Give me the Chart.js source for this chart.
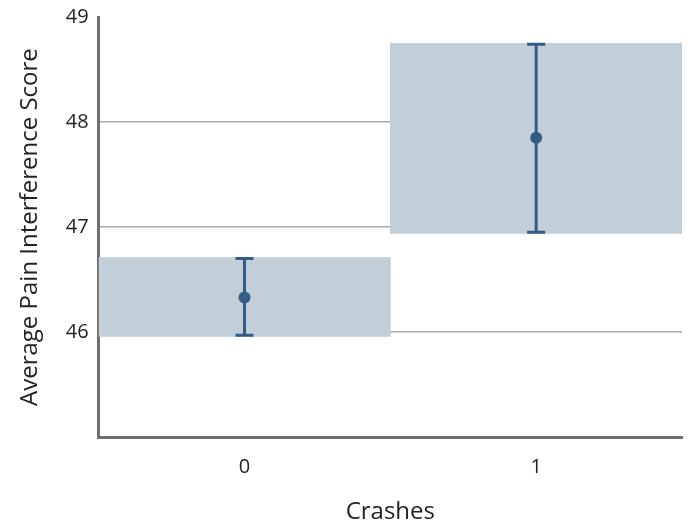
<!DOCTYPE html>
<html lang="en">
<head>
    <meta charset="UTF-8">
    <title>Average Pain Interference Score by Crashes</title>
    <script src="https://cdn.jsdelivr.net/npm/chart.js"></script>
    <style>
        html, body { margin: 0; padding: 0; background: #fff; }
        #wrap { width: 688px; height: 527px; }
    </style>
</head>
<body>
<div id="wrap"><canvas id="chart" width="688" height="527"></canvas></div>
<script>
    // data
    var crashes = ['0', '1'];
    var meanScore = [46.33, 47.85];
    var ciLow = [45.97, 46.95];
    var ciHigh = [46.70, 48.74];
    var bandLow = [45.96, 46.94];
    var bandHigh = [46.71, 48.75];
    var yTicks = [46, 47, 48, 49];

    var dark = '#335d85';

    // error bars drawn on top of everything (grid included)
    var errorBars = {
        id: 'errorBars',
        afterDraw: function (chart) {
            var ctx = chart.ctx;
            var x = chart.scales.x, y = chart.scales.y;
            ctx.save();
            ctx.strokeStyle = dark;
            ctx.lineWidth = 3;
            for (var i = 0; i < crashes.length; i++) {
                var px = x.getPixelForValue(i);
                var top = y.getPixelForValue(ciHigh[i]);
                var bot = y.getPixelForValue(ciLow[i]);
                ctx.beginPath();
                ctx.moveTo(px, top); ctx.lineTo(px, bot);
                ctx.moveTo(px - 9, top); ctx.lineTo(px + 9, top);
                ctx.moveTo(px - 9, bot); ctx.lineTo(px + 9, bot);
                ctx.stroke();
            }
            ctx.restore();
        }
    };

    var bands = crashes.map(function (c, i) { return [bandLow[i], bandHigh[i]]; });
    var font = 'Open Sans';

    new Chart(document.getElementById('chart'), {
        type: 'bar',
        data: {
            labels: crashes,
            datasets: [{
                type: 'line',
                data: meanScore,
                showLine: false,
                pointRadius: 6,
                pointBackgroundColor: dark,
                pointBorderWidth: 0,
                order: 0
            }, {
                data: bands,
                backgroundColor: '#c2ced8',
                borderWidth: 0,
                categoryPercentage: 1,
                barPercentage: 1,
                order: 1
            }]
        },
        options: {
            responsive: false,
            animation: false,
            layout: { padding: { top: 0, right: 6, left: 12, bottom: 0 } },
            plugins: { legend: { display: false }, tooltip: { enabled: false } },
            scales: {
                x: {
                    grid: { display: false, drawTicks: false },
                    border: { color: '#6e6e73', width: 3 },
                    ticks: { color: '#222', font: { family: font, size: 20 }, padding: 18 },
                    title: { display: true, text: 'Crashes', color: '#222',
                        font: { family: font, size: 24 }, padding: { top: 1, bottom: 0 } }
                },
                y: {
                    z: 1,
                    min: 45,
                    max: 49,
                    afterBuildTicks: function (scale) {
                        scale.ticks = [45].concat(yTicks).map(function (v) { return { value: v }; });
                    },
                    grid: {
                        drawTicks: false,
                        lineWidth: 1.5,
                        color: function (c) {
                            var v = c.tick && c.tick.value;
                            return (v === 45 || v === 49) ? 'rgba(0,0,0,0)' : '#a9a9ad';
                        }
                    },
                    border: { color: '#6e6e73', width: 3 },
                    ticks: {
                        color: '#222',
                        font: { family: font, size: 20, lineHeight: 0.7 },
                        padding: 10,
                        callback: function (v) { return v === 45 ? '' : v; }
                    },
                    title: { display: true, text: 'Average Pain Interference Score', color: '#222',
                        font: { family: font, size: 24 }, padding: { bottom: 11 } }
                }
            }
        },
        plugins: [errorBars]
    });
</script>
</body>
</html>
